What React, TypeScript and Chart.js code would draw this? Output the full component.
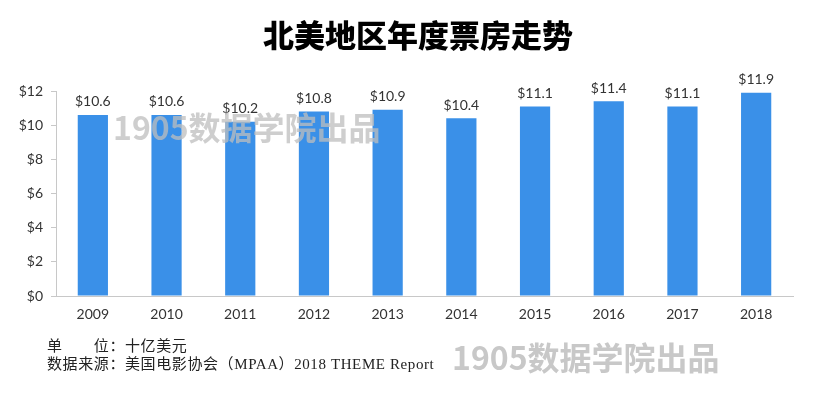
import React, { useEffect, useRef } from "react";
import { Chart, registerables } from "chart.js";

Chart.register(...registerables);

const years = ["2009", "2010", "2011", "2012", "2013", "2014", "2015", "2016", "2017", "2018"];
const boxOffice = [10.6, 10.6, 10.2, 10.8, 10.9, 10.4, 11.1, 11.4, 11.1, 11.9];
const yTicks = [0, 2, 4, 6, 8, 10, 12];
const titleText = "北美地区年度票房走势";
const unitLine = "单　　位：十亿美元";
const sourceLine = "数据来源：美国电影协会（MPAA）2018 THEME Report";
const watermark = "1905数据学院出品";

const LATIN = "Lato, 'Open Sans', sans-serif";

const overlayPlugin = {
  id: "overlay",
  afterDatasetsDraw(chart: any) {
    const ctx = chart.ctx;
    const meta = chart.getDatasetMeta(0);
    ctx.save();
    ctx.fillStyle = "#333";
    ctx.font = `14px ${LATIN}`;
    ctx.textAlign = "center";
    ctx.textBaseline = "bottom";
    meta.data.forEach((bar: any, i: number) => {
      ctx.fillText("$" + boxOffice[i].toFixed(1), bar.x, bar.y - 6);
    });
    ctx.restore();
  },
  afterDraw(chart: any) {
    const ctx = chart.ctx;
    ctx.save();
    // title
    ctx.fillStyle = "#000";
    ctx.font = "900 31px 'Noto Sans CJK SC'";
    ctx.textAlign = "center";
    ctx.textBaseline = "middle";
    ctx.fillText(titleText, 418, 35);
    // footer
    ctx.textAlign = "left";
    ctx.font = "15px 'Liberation Serif', 'Noto Sans CJK SC'";
    ctx.fillStyle = "#222";
    (ctx as any).letterSpacing = "0.6px";
    ctx.fillText(unitLine, 47, 347);
    ctx.fillText(sourceLine, 47, 365);
    (ctx as any).letterSpacing = "0px";
    // watermarks
    ctx.font = "bold 32px 'Noto Sans CJK SC'";
    ctx.fillStyle = "rgba(190,190,190,0.75)";
    ctx.fillText(watermark, 113, 128);
    ctx.fillStyle = "rgba(200,200,200,1)";
    ctx.fillText(watermark, 452, 358);
    ctx.restore();
  },
};

export default function App() {
  const ref = useRef<HTMLCanvasElement | null>(null);
  useEffect(() => {
    if (!ref.current) return;
    const chart = new Chart(ref.current, {
      type: "bar",
      data: {
        labels: years,
        datasets: [
          {
            data: boxOffice,
            backgroundColor: "#3a90e8",
            barPercentage: 0.82,
            categoryPercentage: 0.5,
          },
        ],
      },
      options: {
        animation: false,
        responsive: false,
        maintainAspectRatio: false,
        layout: { padding: { left: 0, right: 22, top: 91, bottom: 0 } },
        plugins: { legend: { display: false }, tooltip: { enabled: false }, title: { display: false } },
        scales: {
          x: {
            grid: { display: false, drawTicks: false },
            border: { display: true, color: "#c8c8c8" },
            ticks: { color: "#333", font: { size: 14, family: LATIN }, padding: 10 },
            afterFit: (s: any) => { s.height = 99; },
          },
          y: {
            min: 0,
            max: 12,
            afterBuildTicks: (s: any) => { s.ticks = yTicks.map((v) => ({ value: v })); },
            grid: { drawOnChartArea: false, drawTicks: true, tickLength: 5, color: "#c8c8c8" },
            border: { display: true, color: "#c8c8c8" },
            ticks: { color: "#333", font: { size: 14, family: LATIN }, padding: 8, callback: (v: any) => "$" + v },
            afterFit: (s: any) => { s.width = 56; },
          },
        },
      },
      plugins: [overlayPlugin],
    });
    return () => chart.destroy();
  }, []);
  return (
    <div style={{ position: "absolute", left: 0, top: 0, width: 815, height: 395, background: "#fff" }}>
      <canvas ref={ref} width={815} height={395} style={{ width: 815, height: 395 }} />
    </div>
  );
}
